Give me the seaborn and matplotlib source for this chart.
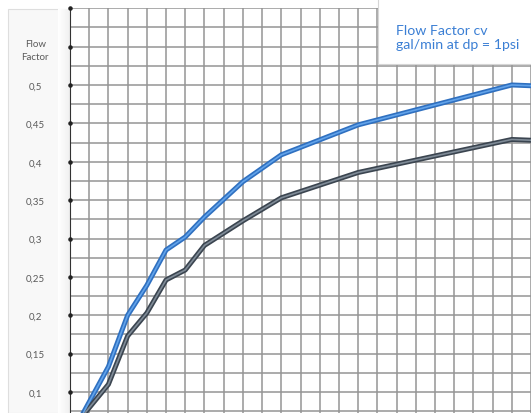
import numpy as np
import pandas as pd
import seaborn as sns
import matplotlib.pyplot as plt
from matplotlib.patches import Rectangle

# datos (x en divisiones de la cuadricula)
x_pos = [0, 2, 3, 4, 5, 6, 7, 9, 11, 15, 23, 24]
cv_azul = [0.041, 0.133, 0.200, 0.239, 0.285, 0.302, 0.328, 0.374, 0.409, 0.448, 0.500, 0.499]
cv_gris = [0.049, 0.110, 0.173, 0.203, 0.246, 0.259, 0.291, 0.323, 0.353, 0.386, 0.429, 0.428]
y_ticks = [0.1, 0.15, 0.2, 0.25, 0.3, 0.35, 0.4, 0.45, 0.5, 0.55, 0.6]
y_labels = ["0,1", "0,15", "0,2", "0,25", "0,3", "0,35", "0,4", "0,45", "0,5", "Flow\nFactor", ""]

df = pd.DataFrame({"x": x_pos, "azul": cv_azul, "gris": cv_gris})

sns.set_style("white")
plt.rcParams['font.family'] = ['Lato', 'DejaVu Sans']

W, H = 531, 414
fig = plt.figure(figsize=(W / 100, H / 100), dpi=100)

# panel izquierdo de etiquetas
fig.patches.append(Rectangle((8 / W, 0), 62 / W, (H - 10) / H, transform=fig.transFigure,
                             facecolor="#f8f8f8", edgecolor="#dedede", lw=0.8, zorder=-2))
# sombra suave junto al eje
sombra = fig.add_axes([58 / W, 0, 12 / W, (H - 10) / H])
sombra.imshow(np.linspace(0, 1, 50)[None, :], cmap="Greys", vmin=0, vmax=8,
              aspect="auto", extent=[0, 1, 0, 1])
sombra.axis("off")
sombra.set_zorder(-1)

ax = fig.add_axes([70 / W, 0, 1 - 70 / W, (H - 9.2) / H])
ax.set_facecolor("white")

# curvas con borde oscuro y centro claro
sns.lineplot(data=df, x="x", y="azul", color="#2f70c0", lw=3.6, ax=ax, zorder=3)
sns.lineplot(data=df, x="x", y="azul", color="#62a3ea", lw=1.2, ax=ax, zorder=4)
sns.lineplot(data=df, x="x", y="gris", color="#3b4550", lw=3.6, ax=ax, zorder=3)
sns.lineplot(data=df, x="x", y="gris", color="#7f8b97", lw=1.2, ax=ax, zorder=4)

ax.set_xlim(0, 24)
ax.set_ylim(0.0727, 0.6)
ax.set_xticks(np.arange(0, 25, 1))
ax.set_xticklabels([])
ax.set_yticks(y_ticks)
ax.set_yticks(np.arange(0.075, 0.6, 0.05), minor=True)
ax.set_yticklabels(y_labels, fontsize=7, color="#5a5a5a", linespacing=1.6)
for lab in ax.get_yticklabels():
    lab.set_horizontalalignment("center")
ax.tick_params(axis="y", which="both", length=0, pad=25)
ax.tick_params(axis="x", length=0)
ax.grid(True, which="both", color="#959595", lw=1.1)
ax.set_axisbelow(True)
for s in ["top", "right", "bottom"]:
    ax.spines[s].set_visible(False)
ax.spines["left"].set_color("#333333")
ax.spines["left"].set_linewidth(0.8)
ax.set_xlabel("")
ax.set_ylabel("")

# puntos de marca en el eje
ax.scatter([0] * len(y_ticks), y_ticks, s=5, color="#222222", clip_on=False, zorder=5)

# cuadro de leyenda
fig.patches.append(Rectangle((380 / W, (H - 66) / H), 155 / W, 70 / H, transform=fig.transFigure,
                             facecolor="#e8e8e8", edgecolor="none", zorder=5))
fig.patches.append(Rectangle((378 / W, (H - 65) / H), 155 / W, 70 / H, transform=fig.transFigure,
                             facecolor="white", edgecolor="#d6d6d6", lw=0.8, zorder=6))
fig.text(396 / W, (H - 31) / H, "Flow Factor cv", color="#3b7fd4", fontsize=10.2,
         va="center", ha="left", zorder=7)
fig.text(396 / W, (H - 45) / H, "gal/min at dp = 1psi", color="#3b7fd4", fontsize=10.2,
         va="center", ha="left", zorder=7)

fig.savefig("out.png", dpi=100)
